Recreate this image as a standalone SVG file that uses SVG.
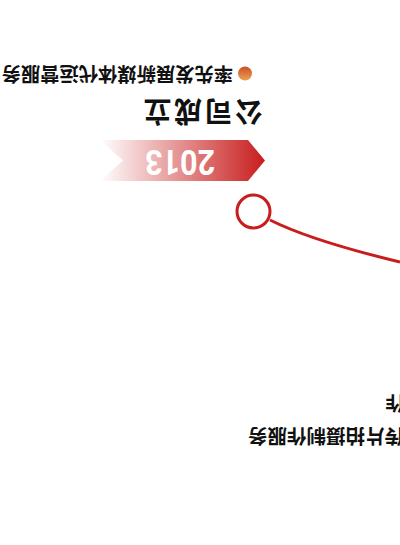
<svg xmlns="http://www.w3.org/2000/svg" width="400" height="545" viewBox="0 0 400 545">
  <defs>
    <linearGradient id="bannerGrad" x1="0" y1="0" x2="1" y2="0">
      <stop offset="0" stop-color="#c81d1d" stop-opacity="1"/>
      <stop offset="1" stop-color="#c81d1d" stop-opacity="0"/>
    </linearGradient>
    <linearGradient id="dotGrad" x1="0" y1="0" x2="0" y2="1">
      <stop offset="0" stop-color="#eaa352"/>
      <stop offset="1" stop-color="#cf4f2a"/>
    </linearGradient>
    <style>
      .txt { font-family: "Noto Sans CJK SC", "Liberation Sans", sans-serif; font-weight: bold; fill: #111; }
      .conn { fill: none; stroke: #c81d1d; stroke-width: 3; }
    </style>
  </defs>
  <rect width="400" height="545" fill="#fff"/>
  <g transform="rotate(180 200 272.5)">
    <g id="connectors">
      <path class="conn" d="M130,325 C100,310 50,295 0,283"/>
    </g>
    <g id="node-2013">
      <circle cx="146.5" cy="333.5" r="16.5" fill="#fff" stroke="#c81d1d" stroke-width="3"/>
      <polygon points="300,405 152,405 135,384.5 152,364 300,364 277,384.5" fill="url(#bannerGrad)"/>
      <text x="185" y="395" font-family="Roboto, Liberation Sans, sans-serif" font-weight="bold" font-size="35" textLength="70" lengthAdjust="spacingAndGlyphs" fill="#fff">2013</text>
      <text class="txt" x="137" y="444" font-size="28" letter-spacing="2.5">公司成立</text>
      <circle cx="155" cy="471.5" r="7" fill="url(#dotGrad)"/>
      <text class="txt" x="167" y="478" font-size="19.3">率先发展新媒体代运营服务</text>
    </g>
    <g id="node-prev">
      <text class="txt" x="152" y="116" font-size="19.5" text-anchor="end">传片拍摄制作服务</text>
      <text class="txt" x="-5" y="149" font-size="19.5">作</text>
    </g>
  </g>
</svg>
